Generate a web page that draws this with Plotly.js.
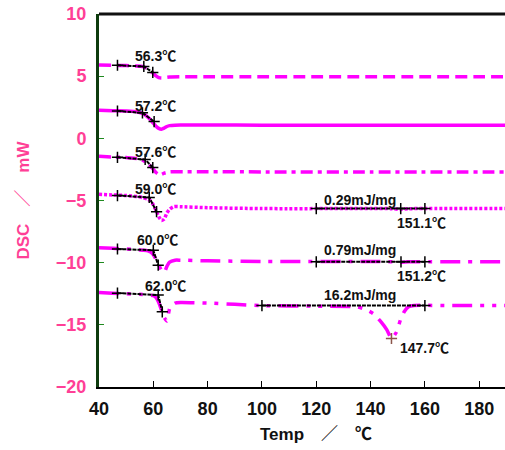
<!DOCTYPE html>
<html>
<head>
<meta charset="utf-8">
<script src="https://cdn.plot.ly/plotly-3.0.1.min.js"></script>
<style>html,body{margin:0;padding:0;background:#fff;}#chart{width:505px;height:450px;}</style>
</head>
<body>
<div id="chart"></div>
<script>
// ---- data ----
const c1x = [40,45,50,54,56,57,58,59,60,61,62,63,64,66,70,80,100,120,140,160,180,190];
const c1y = [5.9,5.88,5.85,5.82,5.78,5.7,5.57,5.42,5.22,5.02,4.88,4.85,4.88,4.93,4.95,4.95,4.95,4.95,4.95,4.95,4.95,4.95];

const c2x = [40,45,50,54,56,57,58,59,60,61,62,63,64,65,66,68,70,80,100,140,190];
const c2y = [2.25,2.22,2.2,2.14,2.0,1.88,1.7,1.48,1.22,0.98,0.8,0.74,0.82,0.95,1.02,1.06,1.07,1.07,1.06,1.06,1.06];

const c3x = [40,45,50,54,56,57,58,59,60,61,62,63,64,66,70,80,100,140,190];
const c3y = [-1.45,-1.5,-1.55,-1.62,-1.75,-1.88,-2.05,-2.25,-2.5,-2.75,-2.9,-2.9,-2.8,-2.7,-2.68,-2.68,-2.7,-2.7,-2.7];

const c4x = [40,45,50,54,56,58,59,60,61,62,63,64,65,66,67.5,70,80,100,140,148,151,154,160,190];
const c4y = [-4.5,-4.55,-4.6,-4.68,-4.76,-4.9,-5.05,-5.35,-5.8,-6.3,-6.6,-6.5,-6.0,-5.7,-5.5,-5.5,-5.58,-5.65,-5.65,-5.66,-5.72,-5.66,-5.65,-5.65];

const c5x = [40,45,50,54,56,58,59,60,61,62,63,64,65,66,68,70,80,100,140,148,151,154,160,190];
const c5y = [-8.8,-8.85,-8.9,-8.95,-9.0,-9.05,-9.15,-9.35,-9.75,-10.2,-10.6,-10.8,-10.3,-9.95,-9.8,-9.8,-9.85,-9.9,-9.9,-9.93,-9.98,-9.93,-9.92,-9.92];

const c6x = [40,45,50,55,58,60,61,62,63,64,65,65.5,66,67,68,70,80,90,100,120,135,138,141,144,146,147.7,149.5,151,152.5,154,156,170,190];
const c6y = [-12.4,-12.45,-12.5,-12.55,-12.6,-12.65,-12.8,-13.2,-13.8,-14.4,-14.7,-14.2,-13.7,-13.4,-13.25,-13.2,-13.25,-13.35,-13.45,-13.5,-13.55,-13.75,-14.1,-14.8,-15.4,-16.1,-15.6,-14.6,-13.9,-13.55,-13.45,-13.45,-13.45];

// tangent construction lines
const t1x = [46.8,56.5,59.8], t1y = [5.88,5.78,5.3];
const t2x = [46.8,56,60.3],   t2y = [2.2,2.05,1.35];
const t3x = [46.8,57,59.8],   t3y = [-1.53,-1.7,-2.35];
const t4x = [46.8,58.5,61.2], t4y = [-4.6,-4.75,-5.9];
const t5x = [46.8,60,61.8],   t5y = [-8.9,-9.0,-10.2];
const t6x = [46.8,61.8,63.3], t6y = [-12.45,-12.6,-13.95];
const r4x = [120,151.1,160], r4y = [-5.65,-5.65,-5.65];
const r5x = [120,151.2,160], r5y = [-9.93,-9.93,-9.93];
const r6x = [100,160], r6y = [-13.45,-13.45];
const p6x = [147.7], p6y = [-16.1];

// labels
const labX = [52.5,52.5,52.5,52.5,53.2,56.2,122.1,149.0,122.1,149.0,122.1,150.1];
const labY = [6.6,2.6,-1.13,-4.1,-8.15,-11.9,-4.97,-6.8,-9.0,-11.1,-12.6,-16.85];
const labT = ["56.3℃","57.2℃","57.6℃","59.0℃","60.0℃","62.0℃","0.29mJ/mg","151.1℃","0.79mJ/mg","151.2℃","16.2mJ/mg","147.7℃"];

const xTicks = [40,60,80,100,120,140,160,180];
const yTicks = [-20,-15,-10,-5,0,5,10];
const xTitle = 'Temp　／　℃';
const yTitle = 'DSC　／　mW';

// ---- styling ----
const MAG = '#ff00ff';
const PINK = '#ff3f96';
const FONT = 'Liberation Sans, Arial, Noto Sans CJK JP, sans-serif';
const curves = [
  [c1x,c1y,'12px,6px'],
  [c2x,c2y,'solid'],
  [c3x,c3y,'12px,5px,4px,5px'],
  [c4x,c4y,'3px,2px'],
  [c5x,c5y,'20px,8px,4px,8px'],
  [c6x,c6y,'20px,8px,4px,8px,4px,8px']
];
const traces = curves.map(c => ({
  x: c[0], y: c[1], mode: 'lines', type: 'scatter',
  line: {color: MAG, width: 3.5, dash: c[2], shape: 'spline', smoothing: 0.6},
  hoverinfo: 'skip', showlegend: false
}));
const tang = [[t1x,t1y],[t2x,t2y],[t3x,t3y],[t4x,t4y],[t5x,t5y],[t6x,t6y],[r4x,r4y],[r5x,r5y],[r6x,r6y]];
tang.forEach(t => traces.push({
  x: t[0], y: t[1], mode: 'lines+markers', type: 'scatter',
  line: {color: '#000', width: 2, dash: '4px,1px'},
  marker: {symbol: 'cross-thin-open', size: 8, line: {color: '#000', width: 1.5}},
  hoverinfo: 'skip', showlegend: false
}));
traces.push({
  x: p6x, y: p6y, mode: 'markers', type: 'scatter',
  marker: {symbol: 'cross-thin-open', size: 8, line: {color: '#000', width: 1.5}},
  hoverinfo: 'skip', showlegend: false
});

const annotations = labT.map((t,i) => ({
  x: labX[i], y: labY[i], xref: 'x', yref: 'y', text: t, showarrow: false,
  xanchor: 'left', yanchor: 'middle',
  font: {family: FONT, size: 14, color: '#111', weight: 'bold'}
}));
// x-axis title (centred on the full original plot width, which runs past the crop)
annotations.push({
  x: 120, y: -0.128, xref: 'x', yref: 'paper', text: xTitle, showarrow: false,
  xanchor: 'center', yanchor: 'middle',
  font: {family: FONT, size: 17, color: '#111', weight: 'bold'}
});

const layout = {
  width: 505, height: 450,
  margin: {l: 99, r: 0, t: 14, b: 63},
  paper_bgcolor: '#fff', plot_bgcolor: '#fff',
  showlegend: false,
  xaxis: {
    range: [40, 189.5], tickvals: xTicks, ticktext: xTicks.map(String),
    ticks: 'inside', ticklen: 6, tickcolor: '#000', tickwidth: 1,
    showgrid: false, zeroline: false,
    showline: true, linecolor: '#000', linewidth: 2,
    tickfont: {family: FONT, size: 18, color: '#111', weight: 'bold'},
    ticklabelstandoff: 4
  },
  yaxis: {
    range: [-20.0001, 10.0001], tickvals: yTicks,
    ticks: 'inside', ticklen: 5, tickcolor: '#1f8a1f', tickwidth: 1,
    showgrid: false, zeroline: false,
    showline: true, linecolor: '#0d3b0d', linewidth: 3,
    tickfont: {family: FONT, size: 18, color: PINK, weight: 'bold'},
    ticklabelstandoff: 6,
    title: {text: yTitle, standoff: 22,
      font: {family: FONT, size: 17, color: PINK, weight: 'bold'}}
  },
  shapes: [{type: 'line', xref: 'paper', yref: 'paper', x0: 0, x1: 1, y0: 1, y1: 1,
    line: {color: '#111', width: 3}}],
  annotations: annotations
};

Plotly.newPlot('chart', traces, layout, {displayModeBar: false, staticPlot: true});
</script>
</body>
</html>
